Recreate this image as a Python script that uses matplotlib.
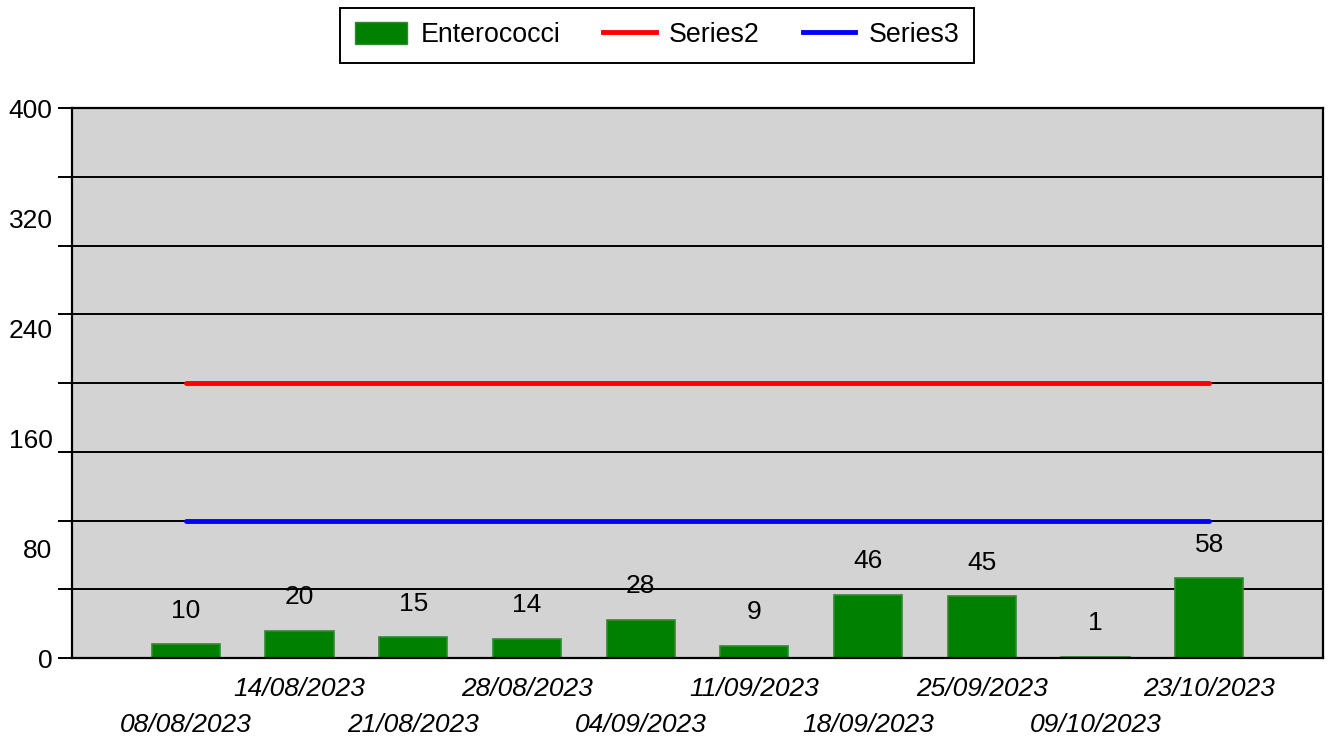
import matplotlib.pyplot as plt
from matplotlib.lines import Line2D
from matplotlib.patches import Patch

plt.rcParams['font.family'] = ['Liberation Sans', 'DejaVu Sans']

dates = ['08/08/2023', '14/08/2023', '21/08/2023', '28/08/2023', '04/09/2023',
         '11/09/2023', '18/09/2023', '25/09/2023', '09/10/2023', '23/10/2023']
enterococci = [10, 20, 15, 14, 28, 9, 46, 45, 1, 58]
series2 = [200] * 10
series3 = [100] * 10

fs = 19
fig = plt.figure(figsize=(13.3, 7.37), dpi=100)
ax = fig.add_axes([72 / 1330, 79 / 737, 1251 / 1330, 550 / 737])
ax.set_facecolor('#d3d3d3')

pos = list(range(1, len(dates) + 1))
ax.bar(pos, enterococci, width=0.6, color='#008000', edgecolor='#2e8b2e', linewidth=1.2, zorder=2)
ax.plot(pos, series2, color='#ff0000', lw=3.5, solid_capstyle='round', zorder=3)
ax.plot(pos, series3, color='#0000ff', lw=3.5, solid_capstyle='round', zorder=3)

for x, v in zip(pos, enterococci):
    ax.annotate(str(v), (x, v), xytext=(0, 24), textcoords='offset points',
                ha='center', va='center', fontsize=fs)

ax.set_xlim(0, 11)
ax.set_ylim(0, 400)

# gridlines + outer ticks every 50, labels every 80
ax.yaxis.remove_overlapping_locs = False
ax.set_yticks(range(0, 401, 50))
ax.set_yticklabels([])
ax.set_yticks(range(0, 401, 80), minor=True)
ax.set_yticklabels([str(v) for v in range(0, 401, 80)], minor=True, fontsize=fs)
ax.tick_params(axis='y', which='major', length=10, width=1.4, color='black', direction='out')
ax.tick_params(axis='y', which='minor', length=0, pad=14)
ax.grid(axis='y', which='major', color='black', lw=1.4)
ax.set_axisbelow(True)

ax.set_xticks(pos)
ax.set_xticklabels(dates, fontsize=fs, style='italic')
ax.tick_params(axis='x', length=0)
for i, t in enumerate(ax.xaxis.get_major_ticks()):
    t.set_pad(39.5 if i % 2 == 0 else 13.5)

for s in ax.spines.values():
    s.set_linewidth(1.6)
    s.set_color('black')

handles = [Patch(facecolor='#008000', edgecolor='#2e8b2e'),
           Line2D([], [], color='#ff0000', lw=3.5),
           Line2D([], [], color='#0000ff', lw=3.5)]
leg = fig.legend(handles, ['Enterococci', 'Series2', 'Series3'], loc='center',
                 bbox_to_anchor=(0.494, 0.952), ncol=3, fontsize=19.3,
                 fancybox=False, edgecolor='black', framealpha=1,
                 handlelength=1.95, handleheight=0.85, handletextpad=0.5,
                 columnspacing=1.6, borderpad=0.55, borderaxespad=0)
leg.get_frame().set_linewidth(1.4)

fig.savefig('out.png', dpi=100)
